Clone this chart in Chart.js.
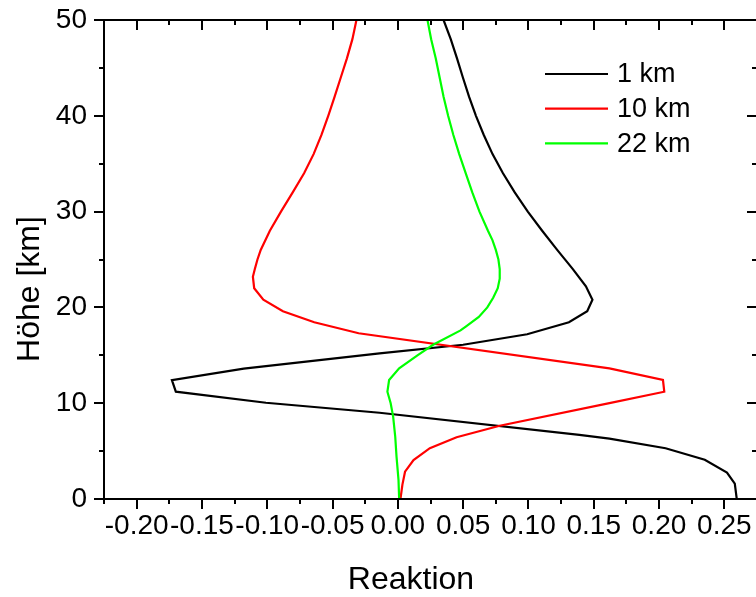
<!DOCTYPE html>
<html>
<head>
<meta charset="utf-8">
<script src="https://cdn.jsdelivr.net/npm/chart.js@4.4.0/dist/chart.umd.min.js"></script>
<style>
  html, body { margin: 0; padding: 0; background: #fff; overflow: hidden; }
  #wrap { width: 756px; height: 597px; overflow: hidden; }
</style>
</head>
<body>
<div id="wrap"><canvas id="profileChart" width="762" height="597"></canvas></div>
<script>
'use strict'

// 1 km curve (Höhe in km, Reaktion)
var height1 = [0, 1.6, 2.75, 4.1, 5.3, 6.3, 6.7, 9.0, 10.05, 11.2, 12.4, 13.6, 15.2, 16.1, 17.2, 18.45, 19.6, 20.8, 22.2, 24, 26, 28, 30, 32, 34, 36, 38, 40, 42, 44, 46, 48, 50];
var react1 = [0.2595, 0.258, 0.252, 0.235, 0.205, 0.162, 0.139, -0.014, -0.101, -0.170, -0.173, -0.118, -0.014, 0.050, 0.099, 0.131, 0.145, 0.149, 0.144, 0.134, 0.122, 0.1105, 0.0995, 0.0895, 0.0805, 0.0725, 0.0658, 0.0598, 0.0545, 0.0498, 0.0453, 0.0405, 0.035];

// 10 km curve
var height10 = [0, 1.5, 2.85, 4.07, 5.3, 6.44, 7.65, 10.0, 11.2, 12.42, 13.64, 17.3, 18.45, 19.6, 20.8, 22.0, 23.2, 24, 25, 26, 28, 30, 32, 34, 36, 38, 40, 42, 44, 46, 48, 50];
var react10 = [0.002, 0.0035, 0.0055, 0.012, 0.0245, 0.045, 0.078, 0.162, 0.204, 0.203, 0.162, -0.030, -0.064, -0.088, -0.103, -0.110, -0.111, -0.1095, -0.1075, -0.105, -0.098, -0.0895, -0.0805, -0.0718, -0.0645, -0.0585, -0.0533, -0.0484, -0.0437, -0.039, -0.0348, -0.0317];

// 22 km curve
var height22 = [0, 2, 4.4, 6.5, 8.6, 10, 11.2, 12.42, 13.64, 15.0, 16.1, 17.6, 18, 19, 20, 21, 22, 23, 24, 25, 26, 27, 28, 30, 32, 34, 36, 38, 40, 42, 44, 46, 48, 50];
var react22 = [0.001, 0.0005, -0.001, -0.002, -0.0036, -0.0055, -0.008, -0.0067, 0.001, 0.015, 0.027, 0.048, 0.052, 0.062, 0.0685, 0.073, 0.0765, 0.078, 0.078, 0.077, 0.075, 0.0725, 0.069, 0.0625, 0.057, 0.052, 0.047, 0.0425, 0.0385, 0.035, 0.032, 0.029, 0.0255, 0.0227];

var seriesLabels = ['1 km', '10 km', '22 km'];
var xMajorTicks = [-0.20, -0.15, -0.10, -0.05, 0.00, 0.05, 0.10, 0.15, 0.20, 0.25];
var xTickLabels = ['-0.20', '-0.15', '-0.10', '-0.05', '0.00', '0.05', '0.10', '0.15', '0.20', '0.25'];
var yMajorTicks = [0, 10, 20, 30, 40, 50];
var yTickLabels = ['0', '10', '20', '30', '40', '50'];

var FONT = '"Liberation Sans", Arial, sans-serif';

function toPoints(heights, values) {
  return heights.map(function(h, i) { return { x: values[i], y: h }; });
}

function majorIndex(list, v) {
  for (var i = 0; i < list.length; i++) {
    if (Math.abs(list[i] - v) < 1e-6) return i;
  }
  return -1;
}

// frame with Origin style ticks (outside on left/bottom, inside on top/right)
var framePlugin = {
  id: 'frame',
  afterDraw: function(chart) {
    var ctx = chart.ctx, a = chart.chartArea;
    var xs = chart.scales.x, ys = chart.scales.y;
    ctx.save();
    ctx.strokeStyle = '#000';
    ctx.lineWidth = 2;
    ctx.strokeRect(a.left, a.top, a.right - a.left, a.bottom - a.top);
    ctx.beginPath();
    xs.ticks.forEach(function(t) {
      var px = Math.round(xs.getPixelForValue(t.value));
      var len = majorIndex(xMajorTicks, t.value) >= 0 ? 10 : 5;
      ctx.moveTo(px, a.bottom); ctx.lineTo(px, a.bottom + len);
      ctx.moveTo(px, a.top); ctx.lineTo(px, a.top + len);
    });
    ys.ticks.forEach(function(t) {
      var py = Math.round(ys.getPixelForValue(t.value));
      var len = majorIndex(yMajorTicks, t.value) >= 0 ? 10 : 5;
      ctx.moveTo(a.left, py); ctx.lineTo(a.left - len, py);
      ctx.moveTo(a.right, py); ctx.lineTo(a.right - len, py);
    });
    ctx.stroke();

    // axis titles
    ctx.fillStyle = '#000';
    ctx.font = '32px ' + FONT;
    ctx.textAlign = 'center';
    ctx.textBaseline = 'alphabetic';
    ctx.fillText('Reaktion', 411, 589);
    ctx.translate(39, 289);
    ctx.rotate(-Math.PI / 2);
    ctx.fillText('Höhe [km]', 0, 0);
    ctx.restore();
  }
};

// legend drawn inside the plot
var legendPlugin = {
  id: 'innerLegend',
  afterDraw: function(chart) {
    var ctx = chart.ctx;
    ctx.save();
    ctx.font = '27px ' + FONT;
    ctx.textBaseline = 'middle';
    ctx.textAlign = 'left';
    chart.data.datasets.forEach(function(ds, i) {
      var y = 74 + i * 34.7;
      ctx.strokeStyle = ds.borderColor;
      ctx.lineWidth = 2.2;
      ctx.beginPath();
      ctx.moveTo(545, y); ctx.lineTo(608, y);
      ctx.stroke();
      ctx.fillStyle = '#000';
      ctx.fillText(ds.label, 617, y + 1);
    });
    ctx.restore();
  }
};

var chart = new Chart(document.getElementById('profileChart'), {
  type: 'scatter',
  data: {
    datasets: [{
      label: seriesLabels[0],
      data: toPoints(height1, react1),
      borderColor: '#000000',
      order: 3
    }, {
      label: seriesLabels[1],
      data: toPoints(height10, react10),
      borderColor: '#ff0000',
      order: 2
    }, {
      label: seriesLabels[2],
      data: toPoints(height22, react22),
      borderColor: '#00ff00',
      order: 1
    }]
  },
  options: {
    responsive: false,
    animation: false,
    showLine: true,
    elements: {
      line: { borderWidth: 2.2, tension: 0, fill: false },
      point: { radius: 0, hoverRadius: 0 }
    },
    layout: { padding: { top: 20, right: 5, left: 0, bottom: 0 } },
    plugins: {
      legend: { display: false },
      tooltip: { enabled: false }
    },
    scales: {
      x: {
        type: 'linear',
        position: 'bottom',
        min: -0.225,
        max: 0.275,
        grid: { display: false, drawTicks: false },
        border: { display: false },
        ticks: {
          stepSize: 0.025,
          autoSkip: false,
          maxRotation: 0,
          minRotation: 0,
          padding: 10,
          color: '#000',
          font: { family: FONT, size: 28 },
          callback: function(v) {
            var i = majorIndex(xMajorTicks, v);
            return i >= 0 ? xTickLabels[i] : '';
          }
        },
        afterFit: function(s) {
          s.height = 98;
          s.paddingLeft = 0; s.paddingRight = 0;
        }
      },
      y: {
        type: 'linear',
        min: 0,
        max: 50,
        grid: { display: false, drawTicks: false },
        border: { display: false },
        ticks: {
          stepSize: 5,
          autoSkip: false,
          padding: 17,
          color: '#000',
          font: { family: FONT, size: 28 },
          callback: function(v) {
            var i = majorIndex(yMajorTicks, v);
            return i >= 0 ? yTickLabels[i] : '';
          }
        },
        afterFit: function(s) {
          s.width = 104;
          s.paddingTop = 0; s.paddingBottom = 0;
        }
      }
    }
  },
  plugins: [framePlugin, legendPlugin]
});
</script>
</body>
</html>
